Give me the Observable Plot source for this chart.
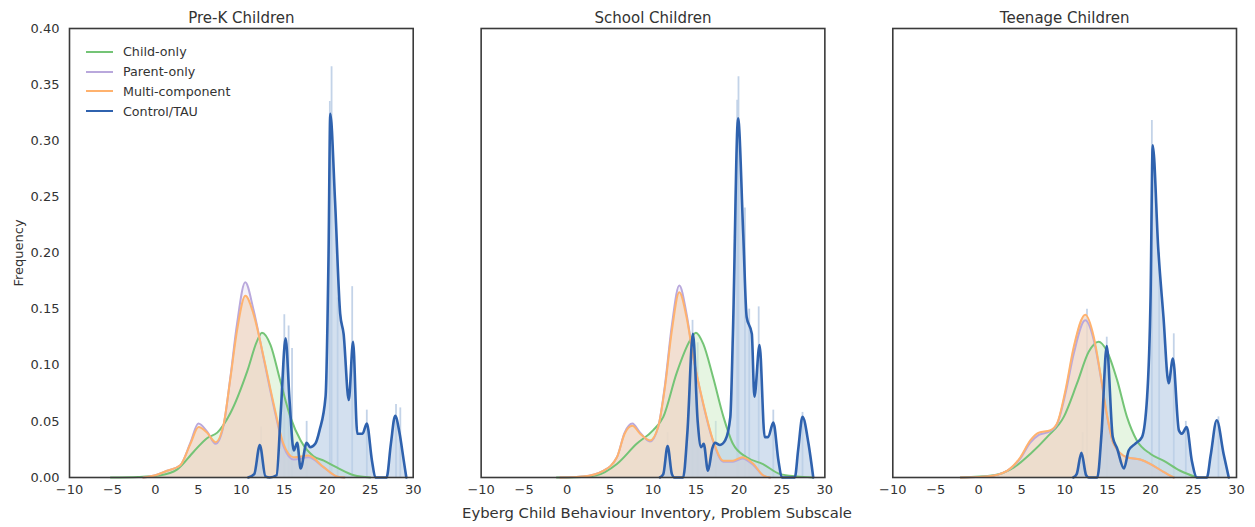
<!DOCTYPE html>
<html><head><meta charset="utf-8">
<script src="https://cdn.jsdelivr.net/npm/d3@7"></script>
<script src="https://cdn.jsdelivr.net/npm/@observablehq/plot@0.6"></script>
<style>
body{margin:0;background:#fff;font-family:"DejaVu Sans",sans-serif;}
#wrap{position:relative;width:1255px;height:527px;}
#legend{position:absolute;left:86px;top:42px;font-size:12.7px;color:#333;}
.row{display:flex;align-items:center;height:19.8px;}
.sw{width:27px;height:0;border-top:2px solid;margin-right:10px;}
</style></head><body>
<div id="wrap"><div id="chart"></div><div id="legend"></div></div>
<script>
const panels = ["Pre-K Children", "School Children", "Teenage Children"];
const seriesNames = ["Child-only", "Parent-only", "Multi-component", "Control/TAU"];
const seriesColors = ["#74c476", "#b9a8dc", "#ffb26e", "#2f62ae"];
const fillColors = ["#d2ecca", "#ddd3ee", "#f0d8c4", "#bccfe6"];
const fillOpac = [0.55, 0.3, 0.75, 0.65];
const xTicks = [-10, -5, 0, 5, 10, 15, 20, 25, 30];
const yTicks = [0, 0.05, 0.10, 0.15, 0.20, 0.25, 0.30, 0.35, 0.40];
const xLabel = "Eyberg Child Behaviour Inventory, Problem Subscale";
const yLabel = "Frequency";

// Pre-K Children
const preK_child = [[-5.2,0],[-2,0.0005],[0.6,0.002],[2.5,0.007],[4.45,0.023],[6.0,0.035],[7.2,0.040],[8.7,0.057],[10.7,0.095],[11.8,0.121],[12.4,0.129],[13.4,0.118],[14.5,0.087],[15.7,0.054],[16.9,0.033],[18.4,0.019],[19.6,0.015],[21.1,0.009],[23.1,0.002],[25,0]];
const preK_parent = [[-1.4,0],[0,0.002],[1.36,0.006],[2.9,0.011],[4.07,0.031],[5.0,0.048],[6.0,0.041],[7.0,0.030],[7.95,0.047],[8.7,0.088],[9.5,0.137],[10.45,0.174],[11.4,0.150],[12.6,0.106],[13.75,0.064],[14.9,0.028],[16.1,0.016],[17.8,0.018],[19.6,0.009],[21.1,0.001],[22,0]];
const preK_multi = [[-1.4,0],[0,0.002],[1.36,0.006],[2.9,0.011],[4.07,0.030],[5.03,0.045],[6.0,0.040],[7.0,0.0315],[7.95,0.048],[8.7,0.087],[9.5,0.131],[10.47,0.162],[11.4,0.146],[12.6,0.107],[13.75,0.066],[14.9,0.030],[16.1,0.018],[17.8,0.0195],[19.6,0.009],[21.1,0.001],[22,0]];
const preK_control = [[10.8,0],[11.5,0.003],[12.15,0.029],[12.8,0.001],[13.3,0],[14.1,0.002],[14.6,0.06],[15.15,0.124],[15.6,0.07],[16.1,0.024],[16.5,0.031],[16.9,0.008],[17.6,0.031],[18.0,0.027],[18.6,0.030],[19.1,0.042],[19.8,0.072],[20.15,0.2],[20.35,0.324],[20.9,0.247],[21.5,0.146],[21.9,0.128],[22.5,0.069],[23.0,0.121],[23.5,0.039],[24.1,0.039],[24.6,0.048],[25.2,0.015],[25.6,0],[26.9,0],[27.4,0.03],[27.9,0.055],[28.4,0.04],[28.9,0.015],[29.2,0]];
const preK_histSpikes = [[12.3,0.045],[15.0,0.145],[15.5,0.135],[15.9,0.115],[17.6,0.05],[20.3,0.335],[20.5,0.366],[21.2,0.16],[22.9,0.17],[24.6,0.06],[28.0,0.065],[28.5,0.062]];

// School Children
const school_child = [[-1.2,0],[1,0.0003],[3.45,0.002],[5.8,0.012],[8.1,0.030],[10.0,0.042],[11.2,0.054],[12.75,0.093],[14.3,0.122],[15.0,0.129],[15.85,0.119],[17.0,0.089],[18.2,0.054],[19.3,0.030],[20.9,0.018],[22.8,0.012],[24.8,0.003],[26.7,0.001],[28.6,0]];
const school_parent = [[-0.8,0],[1.9,0.001],[4.2,0.006],[5.8,0.018],[6.7,0.040],[7.6,0.048],[8.5,0.040],[9.65,0.032],[10.6,0.045],[11.4,0.083],[12.2,0.136],[13.06,0.171],[13.9,0.146],[14.7,0.107],[15.85,0.065],[17.0,0.032],[18.2,0.014],[19.3,0.014],[20.4,0.017],[21.7,0.011],[22.8,0.002],[23.6,0]];
const school_multi = [[-0.8,0],[1.9,0.001],[4.2,0.006],[5.8,0.018],[6.7,0.039],[7.6,0.046],[8.5,0.039],[9.65,0.033],[10.6,0.045],[11.4,0.081],[12.2,0.131],[13.06,0.165],[13.9,0.143],[14.7,0.107],[15.85,0.066],[17.0,0.033],[18.2,0.015],[19.3,0.015],[20.4,0.018],[21.7,0.012],[22.8,0.002],[23.6,0]];
const school_control = [[10.8,0],[11.2,0.003],[11.7,0.028],[12.2,0.003],[12.5,0],[13.5,0],[14.0,0.04],[14.65,0.128],[15.2,0.05],[15.6,0.027],[15.9,0.030],[16.4,0.006],[16.9,0.026],[17.2,0.031],[17.8,0.029],[18.4,0.033],[19.0,0.054],[19.3,0.128],[19.9,0.320],[20.5,0.217],[20.9,0.143],[21.5,0.128],[21.8,0.072],[22.4,0.118],[23.0,0.036],[23.4,0.036],[24.0,0.049],[24.6,0.015],[25.0,0],[26.5,0],[26.9,0.025],[27.4,0.054],[28.1,0.030],[28.65,0]];
const school_histSpikes = [[11.7,0.04],[14.6,0.14],[15.2,0.12],[17.3,0.05],[19.8,0.336],[19.95,0.357],[20.7,0.24],[21.2,0.15],[22.3,0.152],[24.0,0.06],[27.4,0.058]];

// Teenage Children
const teen_child = [[-2.1,0],[1.75,0.002],[4.1,0.009],[6.0,0.021],[7.95,0.036],[9.9,0.054],[11.45,0.084],[12.8,0.112],[13.95,0.121],[14.9,0.113],[16.1,0.087],[17.25,0.054],[18.4,0.033],[20.0,0.021],[21.5,0.015],[23.45,0.006],[25.4,0]];
const teen_parent = [[-2.1,0],[1.0,0.001],[3.3,0.006],[4.85,0.017],[6.0,0.031],[7.0,0.038],[8.3,0.041],[9.1,0.047],[10.1,0.075],[11.05,0.110],[12.4,0.140],[13.4,0.122],[14.15,0.092],[14.9,0.056],[15.7,0.030],[17.25,0.018],[18.8,0.016],[20.0,0.012],[21.5,0.005],[22.7,0]];
const teen_multi = [[-2.1,0],[1.0,0.001],[3.3,0.006],[4.85,0.018],[6.0,0.033],[7.0,0.040],[8.3,0.042],[9.1,0.048],[10.1,0.078],[11.05,0.116],[12.4,0.145],[13.4,0.125],[14.15,0.093],[14.9,0.057],[15.7,0.030],[17.25,0.018],[18.8,0.016],[20.0,0.012],[21.5,0.005],[22.7,0]];
const teen_control = [[11.0,0],[11.4,0.003],[11.95,0.022],[12.5,0.002],[12.8,0],[13.8,0],[14.3,0.04],[14.9,0.117],[15.6,0.036],[16.1,0.026],[16.9,0.008],[17.45,0.024],[18.2,0.030],[19.0,0.036],[19.6,0.072],[20.0,0.161],[20.25,0.296],[20.9,0.203],[21.5,0.143],[22.1,0.084],[22.6,0.106],[23.3,0.042],[23.65,0.039],[24.2,0.045],[24.8,0.015],[25.4,0],[26.55,0],[27.0,0.02],[27.7,0.051],[28.5,0.021],[29.1,0]];
const teen_histSpikes = [[12.1,0.04],[12.6,0.15],[14.9,0.125],[20.15,0.318],[21.0,0.2],[22.7,0.128],[24.1,0.05],[27.9,0.054]];

const curves = [
  [preK_child, preK_parent, preK_multi, preK_control],
  [school_child, school_parent, school_multi, school_control],
  [teen_child, teen_parent, teen_multi, teen_control]
];
const spikes = [preK_histSpikes, school_histSpikes, teen_histSpikes];

const rows = [];
curves.forEach((set, p) => set.forEach((pts, s) => pts.forEach(([x, y]) =>
  rows.push({panel: panels[p], series: seriesNames[s], si: s, x, y}))));
const spikeRows = [];
spikes.forEach((pts, p) => pts.forEach(([x, y]) => spikeRows.push({panel: panels[p], x, y})));

const bySeries = s => rows.filter(d => d.si === s);

const marks = [];
marks.push(Plot.ruleX(spikeRows, {x: "x", y1: 0, y2: "y", fx: "panel", stroke: "#c3d3e8", strokeWidth: 1.8}));
for (const s of [0, 1, 2, 3]) {
  marks.push(Plot.areaY(bySeries(s), {x: "x", y: "y", fx: "panel", fill: fillColors[s], fillOpacity: fillOpac[s], curve: "monotone-x"}));
}
for (const s of [0, 1, 2, 3]) {
  marks.push(Plot.lineY(bySeries(s), {x: "x", y: "y", fx: "panel", stroke: seriesColors[s], strokeWidth: s === 3 ? 2.6 : 2, curve: "monotone-x"}));
}
marks.push(Plot.frame({stroke: "#3a3a3a", strokeWidth: 1.6}));
marks.push(Plot.axisFx({anchor: "top", tickSize: 0, tickPadding: 6, label: null, fontSize: 15}));
marks.push(Plot.axisX({ticks: xTicks, tickSize: 0, tickPadding: 7, label: null, fontSize: 13}));
marks.push(Plot.axisY({ticks: yTicks, tickFormat: d3.format(".2f"), tickSize: 0, tickPadding: 10, fontSize: 13,
  label: yLabel, labelAnchor: "center", labelArrow: "none", labelOffset: 56}));
marks.push(Plot.text([{panel: panels[1]}], {fx: "panel", text: () => xLabel, frameAnchor: "bottom", dy: 40, fontSize: 14.8, dx: 4}));

const chart = Plot.plot({
  width: 1255, height: 527,
  marginLeft: 69, marginRight: 19, marginTop: 28, marginBottom: 50,
  style: {fontFamily: "DejaVu Sans", fontSize: "13px", color: "#333", background: "#fff"},
  x: {domain: [-10, 30]},
  y: {domain: [0, 0.4]},
  fx: {domain: panels, paddingInner: 68 / 412, paddingOuter: 0, round: false},
  marks
});
document.getElementById("chart").appendChild(chart);

const leg = document.getElementById("legend");
seriesNames.forEach((n, i) => {
  const r = document.createElement("div"); r.className = "row";
  const sw = document.createElement("div"); sw.className = "sw";
  sw.style.borderTopColor = seriesColors[i];
  sw.style.borderTopWidth = (i === 3 ? 2.6 : 2) + "px";
  const t = document.createElement("span"); t.textContent = n;
  r.appendChild(sw); r.appendChild(t); leg.appendChild(r);
});
</script>
</body></html>
